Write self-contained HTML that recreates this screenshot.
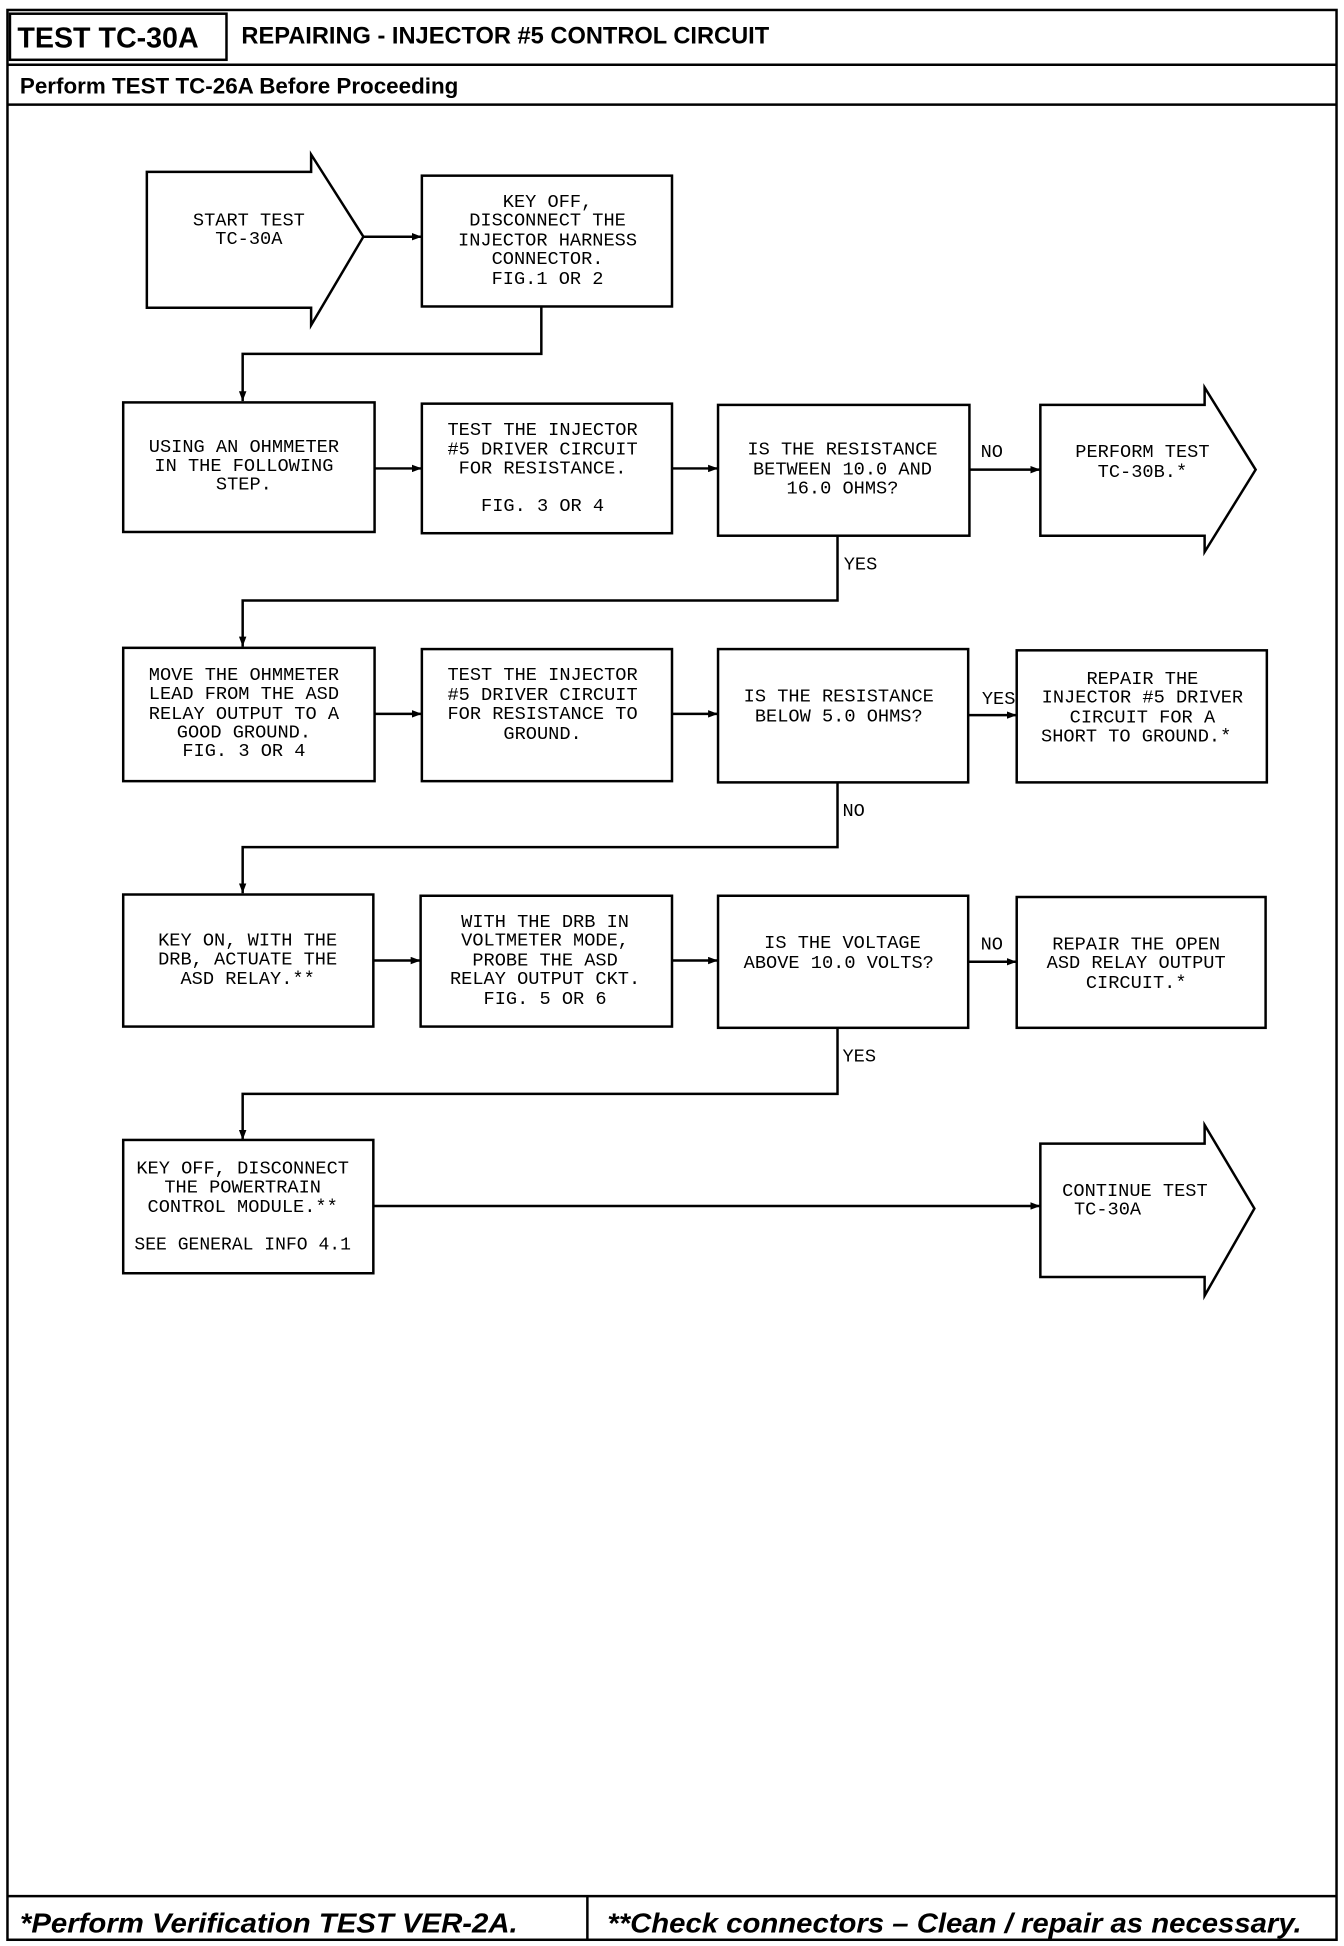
<!DOCTYPE html>
<html><head><meta charset="utf-8"><style>
html,body{margin:0;padding:0;background:#fff}
svg{display:block}
.t{font-family:"Liberation Mono",monospace;font-size:15px;fill:#000;text-anchor:middle}
.l{font-family:"Liberation Mono",monospace;font-size:15px;fill:#000}
</style></head><body>
<svg width="1344" height="1946" viewBox="0 0 1080 1562" preserveAspectRatio="none" xmlns="http://www.w3.org/2000/svg">
<defs><marker id="a" markerWidth="8" markerHeight="6" refX="8" refY="3" orient="auto" markerUnits="userSpaceOnUse"><path d="M0,0L8,3L0,6z" fill="#000"/></marker></defs>
<g fill="none" stroke="#000" stroke-width="2">
<rect x="6" y="8" width="1068" height="1549"/>
<rect x="8" y="11" width="174" height="37"/>
<line x1="6" y1="52" x2="1074" y2="52"/>
<line x1="6" y1="84" x2="1074" y2="84"/>
<line x1="6" y1="1522" x2="1074" y2="1522"/>
<line x1="472" y1="1522" x2="472" y2="1557"/>
<path d="M118,138H250V124L292,190L250,261V247H118Z"/>
<rect x="339" y="141" width="201" height="105"/>
<line x1="292" y1="190" x2="339" y2="190" marker-end="url(#a)"/>
<path d="M435,246V284H195V322" marker-end="url(#a)"/>
<rect x="99" y="323" width="202" height="104"/>
<rect x="339" y="324" width="201" height="104"/>
<rect x="577" y="325" width="202" height="105"/>
<path d="M836,325H968V311L1009,377L968,443V430H836Z"/>
<line x1="301" y1="376" x2="339" y2="376" marker-end="url(#a)"/>
<line x1="540" y1="376" x2="577" y2="376" marker-end="url(#a)"/>
<line x1="779" y1="377" x2="836" y2="377" marker-end="url(#a)"/>
<path d="M673,430V482H195V519" marker-end="url(#a)"/>
<rect x="99" y="520" width="202" height="107"/>
<rect x="339" y="521" width="201" height="106"/>
<rect x="577" y="521" width="201" height="107"/>
<rect x="817" y="522" width="201" height="106"/>
<line x1="301" y1="573" x2="339" y2="573" marker-end="url(#a)"/>
<line x1="540" y1="573" x2="577" y2="573" marker-end="url(#a)"/>
<line x1="778" y1="574" x2="817" y2="574" marker-end="url(#a)"/>
<path d="M673,628V680H195V717" marker-end="url(#a)"/>
<rect x="99" y="718" width="201" height="106"/>
<rect x="338" y="719" width="202" height="105"/>
<rect x="577" y="719" width="201" height="106"/>
<rect x="817" y="720" width="200" height="105"/>
<line x1="300" y1="771" x2="338" y2="771" marker-end="url(#a)"/>
<line x1="540" y1="771" x2="577" y2="771" marker-end="url(#a)"/>
<line x1="778" y1="772" x2="817" y2="772" marker-end="url(#a)"/>
<path d="M673,825V878H195V915" marker-end="url(#a)"/>
<rect x="99" y="915" width="201" height="107"/>
<path d="M836,918H968V903L1008,970L968,1040V1025H836Z"/>
<line x1="300" y1="968" x2="836" y2="968" marker-end="url(#a)"/>
</g>
<g font-family="Liberation Sans, sans-serif" font-weight="bold" fill="#000">
<text x="14" y="38" font-size="23">TEST TC-30A</text>
<text x="194" y="35" font-size="19">REPAIRING - INJECTOR #5 CONTROL CIRCUIT</text>
<text x="16" y="75" font-size="18">Perform TEST TC-26A Before Proceeding</text>
<text x="16" y="1551" font-size="22" font-style="italic" textLength="400" lengthAdjust="spacingAndGlyphs">*Perform Verification TEST VER-2A.</text>
<text x="488" y="1551" font-size="22" font-style="italic" textLength="558" lengthAdjust="spacingAndGlyphs">**Check connectors – Clean / repair as necessary.</text>
</g>
<g class="t">
<text x="200" y="181" class="t">START TEST</text><text x="200" y="196" class="t">TC-30A</text>
<text x="440" y="166" class="t">KEY OFF,</text><text x="440" y="181" class="t">DISCONNECT THE</text><text x="440" y="197" class="t">INJECTOR HARNESS</text><text x="440" y="212" class="t">CONNECTOR.</text><text x="440" y="228" class="t">FIG.1 OR 2</text>
<text x="196" y="363" class="t">USING AN OHMMETER</text><text x="196" y="378" class="t">IN THE FOLLOWING</text><text x="196" y="393" class="t">STEP.</text>
<text x="436" y="349" class="t">TEST THE INJECTOR</text><text x="436" y="365" class="t">#5 DRIVER CIRCUIT</text><text x="436" y="380" class="t">FOR RESISTANCE.</text><text x="436" y="410" class="t">FIG. 3 OR 4</text>
<text x="677" y="365" class="t">IS THE RESISTANCE</text><text x="677" y="381" class="t">BETWEEN 10.0 AND</text><text x="677" y="396" class="t">16.0 OHMS?</text>
<text x="918" y="367" class="t">PERFORM TEST</text><text x="918" y="383" class="t">TC-30B.*</text>
<text x="196" y="546" class="t">MOVE THE OHMMETER</text><text x="196" y="561" class="t">LEAD FROM THE ASD</text><text x="196" y="577" class="t">RELAY OUTPUT TO A</text><text x="196" y="592" class="t">GOOD GROUND.</text><text x="196" y="607" class="t">FIG. 3 OR 4</text>
<text x="436" y="546" class="t">TEST THE INJECTOR</text><text x="436" y="562" class="t">#5 DRIVER CIRCUIT</text><text x="436" y="577" class="t">FOR RESISTANCE TO</text><text x="436" y="593" class="t">GROUND.</text>
<text x="674" y="563" class="t">IS THE RESISTANCE</text><text x="674" y="579" class="t">BELOW 5.0 OHMS?</text>
<text x="918" y="549" class="t">REPAIR THE</text><text x="918" y="564" class="t">INJECTOR #5 DRIVER</text><text x="918" y="580" class="t">CIRCUIT FOR A</text><text x="913" y="595" class="t">SHORT TO GROUND.*</text>
<text x="199" y="759" class="t">KEY ON, WITH THE</text><text x="199" y="774" class="t">DRB, ACTUATE THE</text><text x="199" y="790" class="t">ASD RELAY.**</text>
<text x="438" y="744" class="t">WITH THE DRB IN</text><text x="438" y="759" class="t">VOLTMETER MODE,</text><text x="438" y="775" class="t">PROBE THE ASD</text><text x="438" y="790" class="t">RELAY OUTPUT CKT.</text><text x="438" y="806" class="t">FIG. 5 OR 6</text>
<text x="677" y="761" class="t">IS THE VOLTAGE</text><text x="674" y="777" class="t">ABOVE 10.0 VOLTS?</text>
<text x="913" y="762" class="t">REPAIR THE OPEN</text><text x="913" y="777" class="t">ASD RELAY OUTPUT</text><text x="913" y="793" class="t">CIRCUIT.*</text>
<text x="195" y="942" class="t">KEY OFF, DISCONNECT</text><text x="195" y="957" class="t">THE POWERTRAIN</text><text x="195" y="973" class="t">CONTROL MODULE.**</text><text x="195" y="1003" class="t" textLength="174" lengthAdjust="spacingAndGlyphs">SEE GENERAL INFO 4.1</text>
<text x="912" y="960" class="t">CONTINUE TEST</text><text x="890" y="975" class="t">TC-30A</text>
</g>
<g class="l">
<text x="788" y="367" class="l">NO</text>
<text x="678" y="457" class="l">YES</text>
<text x="789" y="565" class="l">YES</text>
<text x="677" y="655" class="l">NO</text>
<text x="788" y="762" class="l">NO</text>
<text x="677" y="852" class="l">YES</text>
</g>
</svg>
</body></html>
